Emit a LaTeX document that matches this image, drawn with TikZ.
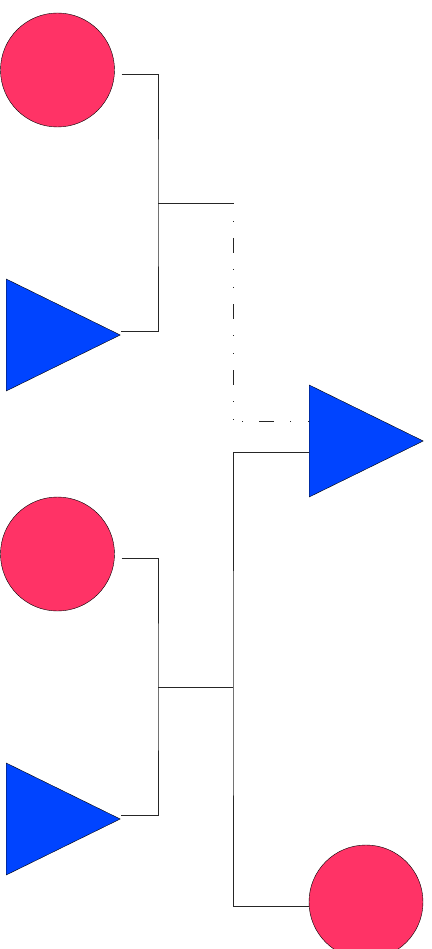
\documentclass[tikz,border=0pt]{standalone}
\usetikzlibrary{shapes.geometric}
\definecolor{rosa}{RGB}{255,51,102}
\definecolor{azul}{RGB}{0,68,255}
\begin{document}
\begin{tikzpicture}[x=1pt, y=-1pt,
  bola/.style={circle, draw=black, thin, fill=rosa, minimum size=114pt, inner sep=0pt},
  punta/.style={isosceles triangle, isosceles triangle stretches, draw=black, thin,
                fill=azul, minimum width=112pt, minimum height=114pt, inner sep=0pt},
  rama/.style={draw=black!85, line width=0.8pt},
  rayapunto/.style={draw=black!85, line width=0.8pt,
                    dash pattern=on 0.6pt off 17.4pt on 0.6pt off 16.4pt on 15pt off 16pt}]

  \useasboundingbox (0,0) rectangle (431,949);

  % --- Hojas ---
  \node[bola] (c1) at (57.5,70) {};
  \node[punta, anchor=west] (t1) at (6,335) {};
  \node[bola] (c2) at (57.5,554) {};
  \node[punta, anchor=west] (t2) at (6,819) {};
  \node[punta, anchor=west] (t3) at (309,441) {};
  \node[bola] (c3) at (366,902) {};

  % --- Uniones ---
  \coordinate (j1) at (158,203);
  \coordinate (q1) at (233,203);
  \coordinate (codo) at (233,421);
  \coordinate (j2) at (158,687);
  \coordinate (q2) at (233,687);

  % --- Grupo superior ---
  \draw[rama] ([shift={(7,4)}]c1.east) -| (j1) |- ([yshift=4pt]t1.apex);
  \draw[rama] (j1) -- (q1);
  \draw[rayapunto] (q1) -- (codo);
  \draw[rayapunto] ([yshift=20pt]t3.west) -- (codo);

  % --- Grupo inferior ---
  \draw[rama] ([shift={(7,4)}]c2.east) -| (j2) |- ([yshift=4pt]t2.apex);
  \draw[rama] (j2) -- (q2);
  \draw[rama] ([yshift=-11pt]t3.west) -| (q2) |- ([yshift=-4pt]c3.west);

\end{tikzpicture}
\end{document}
